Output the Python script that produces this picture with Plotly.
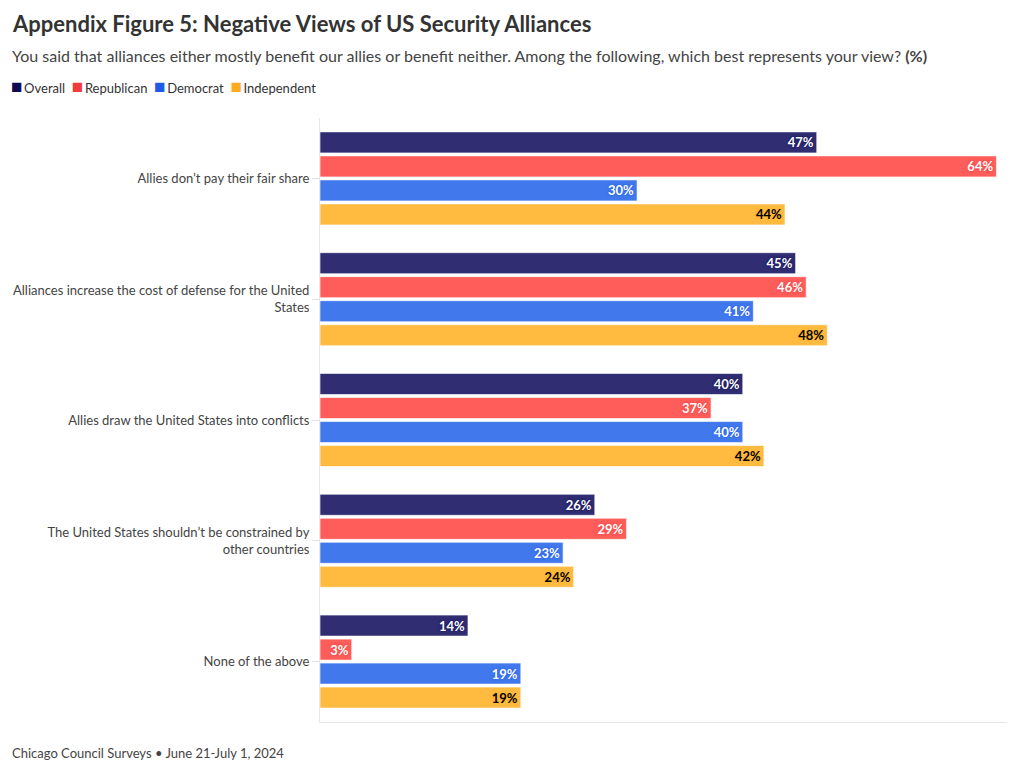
import plotly.graph_objects as go

categories = [
    "Allies don’t pay their fair share",
    "Alliances increase the cost of defense for the United<br>States",
    "Allies draw the United States into conflicts",
    "The United States shouldn’t be constrained by<br>other countries",
    "None of the above",
]
series_names = ["Overall", "Republican", "Democrat", "Independent"]
overall = [47, 45, 40, 26, 14]
republican = [64, 46, 37, 29, 3]
democrat = [30, 41, 40, 23, 19]
independent = [44, 48, 42, 24, 19]
values = [overall, republican, democrat, independent]

bar_colors = ["#302d72", "#ff5d5a", "#4178ec", "#ffbb40"]
legend_colors = ["#0b0b55", "#ef3d3d", "#1f5ce6", "#fdac22"]
text_colors = ["#ffffff", "#ffffff", "#ffffff", "#000000"]
shadow_colors = ["#0b0b55", "#ef3d3d", "#1f5ce6", "#fdac22"]

FONT = "Lato"

fig = go.Figure()
for name, vals, bc, tc, sc in zip(series_names, values, bar_colors, text_colors, shadow_colors):
    fig.add_trace(go.Bar(
        name=name,
        y=categories,
        x=vals,
        orientation="h",
        marker=dict(color=bc, line=dict(color="rgba(255,255,255,0.6)", width=1)),
        text=[f"{v}%" for v in vals],
        textposition="inside",
        insidetextanchor="end",
        textangle=0,
        constraintext="none",
        textfont=dict(family=FONT, size=13, color=tc, weight="bold",
                      shadow=f"0px 0px 3px {sc}"),
        hoverinfo="skip",
        showlegend=False,
    ))

legend_html = "&nbsp;&nbsp;".join(
    f"<span style='color:{c};font-size:19px'>■</span>&#8201;{n}" for n, c in zip(series_names, legend_colors)
)

# page body has an 8px margin; figure sized to fit the window without scrollbars
fig.update_layout(
    width=1004, height=757,
    margin=dict(l=312, r=5, t=110, b=43),
    paper_bgcolor="white", plot_bgcolor="white",
    barmode="group", bargap=0.205, bargroupgap=0.125,
    font=dict(family=FONT, color="#444444", size=13),
    xaxis=dict(range=[0, 65], showticklabels=False, showgrid=False, zeroline=False,
               showline=True, linecolor="#e8e8e8", linewidth=1, ticks=""),
    yaxis=dict(autorange=False, range=[4.5, -0.5], showgrid=False, zeroline=False,
               showline=True, linecolor="#e8e8e8", linewidth=1,
               ticks="outside", ticklen=7, tickcolor="#e0e0e0",
               tickfont=dict(family=FONT, size=13, color="#444444")),
    annotations=[
        dict(text="<b>Appendix Figure 5: Negative Views of US Security Alliances</b>",
             xref="paper", yref="paper", x=-310/687, y=1 + (118 - 24) / 604,
             xanchor="left", yanchor="middle", showarrow=False,
             font=dict(family=FONT, size=22, color="#333333")),
        dict(text="You said that alliances either mostly benefit our allies or benefit neither. Among the following, which best represents your view? <b>(%)</b>",
             xref="paper", yref="paper", x=-310/687, y=1 + (118 - 55) / 604,
             xanchor="left", yanchor="middle", showarrow=False,
             font=dict(family=FONT, size=16, color="#444444")),
        dict(text=legend_html,
             xref="paper", yref="paper", x=-311/687, y=1 + (118 - 85) / 604,
             xanchor="left", yanchor="middle", showarrow=False,
             font=dict(family=FONT, size=13, color="#333333")),
        dict(text="Chicago Council Surveys • June 21-July 1, 2024",
             xref="paper", yref="paper", x=-310/687, y=-(753 - 722) / 604,
             xanchor="left", yanchor="middle", showarrow=False,
             font=dict(family=FONT, size=13, color="#444444")),
    ],
)

fig.write_html("out.html")
